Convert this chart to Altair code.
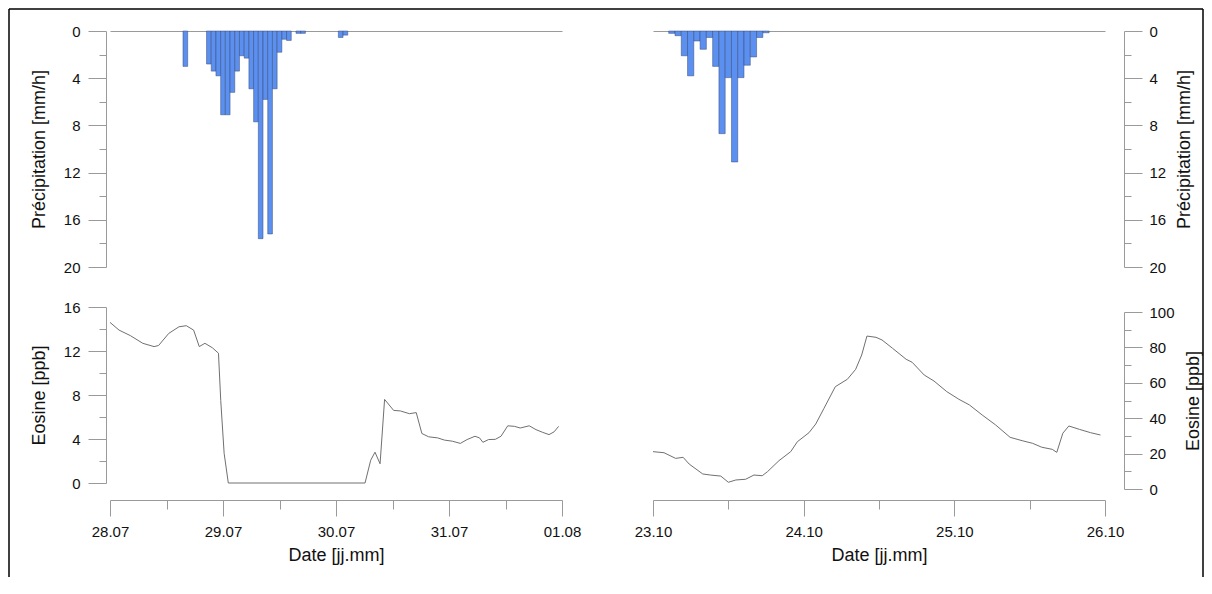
import altair as alt
import pandas as pd

# ---------------- data ----------------
# Precipitation, hourly bars (hour counted from the first date, bar centred on the hour)
left_precip_hour = [16, 21, 22, 23, 24, 25, 26, 27, 28, 29, 30, 31, 32, 33, 34, 35, 36, 37, 38, 40, 41, 49, 50]
left_precip_mm = [3.0, 2.8, 3.4, 3.8, 7.1, 7.1, 5.2, 3.4, 2.1, 2.3, 4.9, 7.7, 17.6, 5.8, 17.2, 4.9, 1.8, 0.7, 0.8, 0.2, 0.2, 0.55, 0.35]

right_precip_hour = [3, 4, 5, 6, 7, 8, 9, 10, 11, 12, 13, 14, 15, 16, 17, 18]
right_precip_mm = [0.2, 0.4, 2.1, 3.8, 0.85, 1.55, 0.55, 3.0, 8.7, 3.95, 11.1, 3.95, 2.9, 2.2, 0.55, 0.15]

# Eosine concentration (time in days from the first date)
left_eos_day = [0, 0.08, 0.18, 0.29, 0.39, 0.43, 0.52, 0.61, 0.675, 0.74, 0.79, 0.84, 0.905, 0.96, 0.98, 1.01, 1.047,
                2.257, 2.307, 2.345, 2.39, 2.43, 2.51, 2.57, 2.65, 2.71, 2.76, 2.82, 2.90, 2.96, 3.03, 3.10, 3.16,
                3.23, 3.27, 3.30, 3.35, 3.41, 3.46, 3.52, 3.58, 3.63, 3.71, 3.77, 3.83, 3.885, 3.93, 3.97]
left_eos_ppb = [14.6, 13.9, 13.4, 12.7, 12.4, 12.5, 13.6, 14.2, 14.3, 13.9, 12.4, 12.7, 12.3, 11.8, 7.5, 2.7, 0,
                0, 2.07, 2.8, 1.75, 7.6, 6.6, 6.55, 6.3, 6.4, 4.5, 4.2, 4.1, 3.9, 3.8, 3.6, 3.95,
                4.25, 4.1, 3.7, 3.95, 3.97, 4.25, 5.2, 5.15, 5.0, 5.2, 4.85, 4.6, 4.4, 4.65, 5.15]

right_eos_day = [0, 0.073, 0.15, 0.20, 0.24, 0.33, 0.38, 0.45, 0.50, 0.55, 0.615, 0.67, 0.725, 0.76, 0.836, 0.914,
                 0.958, 1.035, 1.08, 1.135, 1.21, 1.29, 1.345, 1.385, 1.42, 1.48, 1.52, 1.59, 1.68, 1.72, 1.80,
                 1.865, 1.95, 2.03, 2.10, 2.185, 2.274, 2.37, 2.45, 2.52, 2.58, 2.65, 2.68, 2.72, 2.76, 2.83,
                 2.905, 2.97]
right_eos_ppb = [21.1, 20.5, 17.3, 17.9, 14.1, 8.5, 7.9, 7.3, 3.8, 5.1, 5.5, 7.9, 7.5, 9.8, 16, 21.1,
                 26.7, 31.8, 36.7, 45.6, 57.8, 62, 67.6, 75.7, 86.4, 85.7, 84.2, 79.5, 73.3, 71.6, 64.4,
                 61, 55, 50.7, 47.5, 41.8, 36.2, 29.2, 27.3, 25.8, 23.6, 22.4, 20.7, 31.5, 35.6, 33.7,
                 31.8, 30.5]

left_date_labels = ["28.07", "29.07", "30.07", "31.07", "01.08"]
right_date_labels = ["23.10", "24.10", "25.10", "26.10"]

# ---------------- styling ----------------
FONT = "Liberation Sans"
AX = "#9a9a9a"
BAR = "#5b8ff0"
W = 452
EOS_H = 176


def date_label_expr(labels):
    arr = "[" + ",".join("'%s'" % l for l in labels) + "]"
    return "datum.value %% 1 == 0 ? %s[round(datum.value)] : ''" % arr


def tick_size(test, big, small):
    return {"condition": {"test": test, "value": big}, "value": small}


def y_axis(orient, title, values, major, offset):
    return alt.Axis(
        orient=orient, title=title, values=values, offset=offset,
        labelExpr="datum.value %% %s == 0 ? datum.label : ''" % major,
        tickSize=tick_size("datum.value %% %s == 0" % major, 18, 7),
        titleAngle=270, titleBaseline="bottom" if orient == "left" else "top",
        labelPadding=8 if orient == "left" else 7,
        titlePadding=15 if orient == "left" else 10,
        labelFlush=False, labelOverlap=False, grid=False,
    )


def x_axis(labels, ndays, offset):
    vals = [i * 0.5 for i in range(2 * ndays + 1)]
    return alt.Axis(
        orient="bottom", title="Date [jj.mm]", values=vals, offset=offset,
        labelExpr=date_label_expr(labels),
        tickSize=tick_size("datum.value % 1 == 0", 16, 9),
        labelPadding=8, titlePadding=7,
        labelFlush=False, labelOverlap=False, grid=False,
    )


def precip_chart(hours, mm, ndays, orient, offset):
    df = pd.DataFrame({"hour": hours, "mm": mm})
    base = alt.Chart(df).transform_calculate(
        t0="(datum.hour - 0.5) / 24", t1="(datum.hour + 0.5) / 24"
    )
    bars = base.mark_bar(color=BAR, stroke="#34466e", strokeWidth=0.6, strokeOpacity=0.8).encode(
        x=alt.X("t0:Q", scale=alt.Scale(domain=[0, ndays], nice=False, zero=False),
                axis=alt.Axis(orient="top", labels=False, ticks=False, title=None, grid=False)),
        x2="t1:Q",
        y=alt.Y("mm:Q", scale=alt.Scale(domain=[0, 20], reverse=True, nice=False),
                axis=y_axis(orient, "Précipitation [mm/h]", list(range(0, 21, 2)), 4, offset)),
        y2=alt.datum(0),
    )
    return bars.properties(width=W, height=236)


def eos_chart(days, ppb, ndays, labels, ymax, ystep, major, orient, yoff, xoff, yrange):
    df = pd.DataFrame({"day": days, "ppb": ppb})
    line = alt.Chart(df).mark_line(color="#707070", strokeWidth=1).encode(
        x=alt.X("day:Q", scale=alt.Scale(domain=[0, ndays], nice=False, zero=False),
                axis=x_axis(labels, ndays, xoff)),
        y=alt.Y("ppb:Q", scale=alt.Scale(domain=[0, ymax], range=yrange, nice=False),
                axis=y_axis(orient, "Eosine [ppb]", list(range(0, ymax + 1, ystep)), major, yoff)),
    )
    return line.properties(width=W, height=EOS_H)


# outer figure frame (left, top and right edges)
one = pd.DataFrame({"k": [0]})
frame_style = dict(color="black", strokeWidth=1.5)
frame_top = alt.Chart(one).mark_rule(**frame_style).encode(
    x=alt.value(-101), x2=alt.value(1093), y=alt.value(-22))
frame_left = alt.Chart(one).mark_rule(**frame_style).encode(
    x=alt.value(-101), y=alt.value(-22), y2=alt.value(546))
frame_right = alt.Chart(one).mark_rule(**frame_style).encode(
    x=alt.value(1093), y=alt.value(-22), y2=alt.value(546))

lp = alt.layer(precip_chart(left_precip_hour, left_precip_mm, 4, "left", 4),
               frame_top, frame_left, frame_right)
le = eos_chart(left_eos_day, left_eos_ppb, 4, left_date_labels, 16, 2, 4, "left", 4, 17, [EOS_H, 0])
rp = precip_chart(right_precip_hour, right_precip_mm, 3, "right", 19)
re = eos_chart(right_eos_day, right_eos_ppb, 3, right_date_labels, 100, 10, 20, "right", 19, 17, [EOS_H + 6, 5])

chart = alt.concat(
    lp, rp, le, re, columns=2, spacing={"row": 40, "column": 91}, bounds="flush"
).properties(
    padding=0, background="white"
).configure_view(stroke=None).configure_axis(
    domainColor=AX, tickColor=AX, domainWidth=1, tickWidth=1,
    labelFont=FONT, labelFontSize=15, labelColor="#111",
    titleFont=FONT, titleFontSize=18, titleFontWeight="normal", titleColor="#111",
)

chart.save("out.html", embed_options={"renderer": "svg", "actions": False})
